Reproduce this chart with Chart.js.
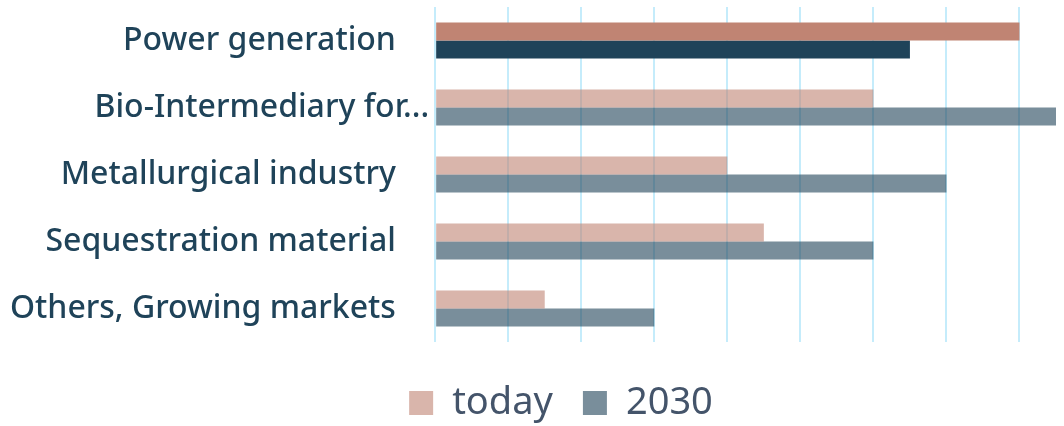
<!DOCTYPE html>
<html>
<head>
<meta charset="utf-8">
<script src="https://cdn.jsdelivr.net/npm/chart.js@4"></script>
<style>
  html, body { margin: 0; padding: 0; background: #fff; }
  #wrap { width: 1064px; height: 426px; }
</style>
</head>
<body>
<div id="wrap"><canvas id="myChart" width="1064" height="426"></canvas></div>
<script>
'use strict';

let categories = ['Power generation', 'Bio-Intermediary for...', 'Metallurgical industry', 'Sequestration material', 'Others, Growing markets'];
let seriesNames = ['today', '2030'];
let todayValues = [8, 6, 4, 4.5, 1.5];
let values2030 = [6.5, 9, 7, 6, 3];

let todayStrong = '#c08473';
let todayLight = 'rgba(192, 132, 115, 0.6)';
let strong2030 = '#1f4359';
let light2030 = 'rgba(31, 67, 89, 0.6)';
let legendText = '#44546a';

// first category is highlighted, the rest are faded
function barColors(strong, light) {
  return categories.map((c, i) => i === 0 ? strong : light);
}

// trailing spaces push the short labels away from the axis
let shownLabels = categories.map(c => c.endsWith('...') ? c : c + '    ');

const data = {
  labels: shownLabels,
  datasets: [{
    label: seriesNames[0],
    data: todayValues,
    backgroundColor: barColors(todayStrong, todayLight),
    categoryPercentage: 0.54,
    barPercentage: 1
  },
  {
    label: seriesNames[1],
    data: values2030,
    backgroundColor: barColors(strong2030, light2030),
    categoryPercentage: 0.54,
    barPercentage: 1
  }]
};

// nudge the legend a bit to the right, like the original
const legendShift = {
  id: 'legendShift',
  afterLayout(chart) {
    chart.legend.left += 62;
  }
};

const config = {
  type: 'bar',
  data: data,
  plugins: [legendShift],
  options: {
    indexAxis: 'y',
    responsive: false,
    animation: false,
    layout: {
      padding: { top: 7, right: 8, left: 4, bottom: -6 }
    },
    scales: {
      x: {
        min: 0,
        max: 8.5,
        ticks: { display: false, stepSize: 1, includeBounds: false },
        border: { display: false },
        grid: { color: '#c5ecfb', lineWidth: 2, drawTicks: false }
      },
      y: {
        ticks: {
          color: '#1f4359',
          font: { family: 'Noto Sans', size: 32, weight: '500' },
          padding: 6
        },
        border: { display: false },
        grid: { display: false, drawTicks: false },
        afterFit: function (scale) {
          scale.paddingTop = 0;
          scale.paddingBottom = 0;
        }
      }
    },
    plugins: {
      tooltip: { enabled: false },
      legend: {
        position: 'bottom',
        title: { display: true, text: '', font: { size: 12, lineHeight: 1 }, padding: 0 },
        labels: {
          color: legendText,
          font: { family: 'Noto Sans', size: 38 },
          boxWidth: 24,
          boxHeight: 24,
          padding: 30,
          generateLabels: function () {
            return [
              { text: seriesNames[0], fillStyle: todayLight, strokeStyle: 'rgba(0,0,0,0)', lineWidth: 0, fontColor: legendText, datasetIndex: 0 },
              { text: seriesNames[1], fillStyle: light2030, strokeStyle: 'rgba(0,0,0,0)', lineWidth: 0, fontColor: legendText, datasetIndex: 1 }
            ];
          }
        }
      }
    }
  }
};

const myChart = new Chart(
  document.getElementById('myChart'),
  config
);
</script>
</body>
</html>
